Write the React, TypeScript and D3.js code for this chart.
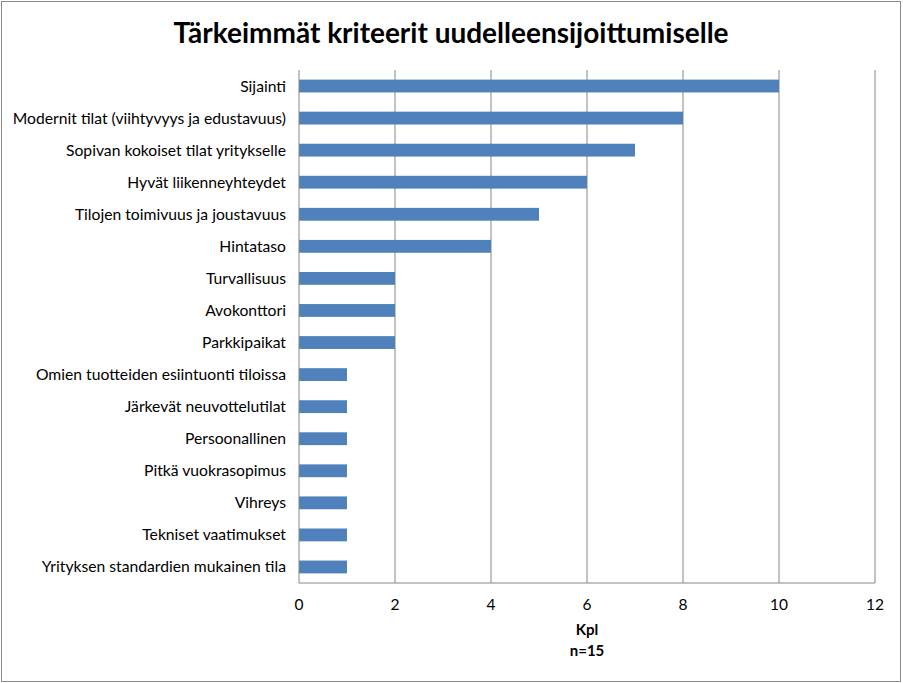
import React, { useEffect, useRef } from 'react';
import * as d3 from 'd3';

const categories = [
  'Sijainti',
  'Modernit tilat (viihtyvyys ja edustavuus)',
  'Sopivan kokoiset tilat yritykselle',
  'Hyvät liikenneyhteydet',
  'Tilojen toimivuus ja joustavuus',
  'Hintataso',
  'Turvallisuus',
  'Avokonttori',
  'Parkkipaikat',
  'Omien tuotteiden esiintuonti tiloissa',
  'Järkevät neuvottelutilat',
  'Persoonallinen',
  'Pitkä vuokrasopimus',
  'Vihreys',
  'Tekniset vaatimukset',
  'Yrityksen standardien mukainen tila',
];
const counts = [10, 8, 7, 6, 5, 4, 2, 2, 2, 1, 1, 1, 1, 1, 1, 1];
const xTicks = [0, 2, 4, 6, 8, 10, 12];

const FONT = 'Lato, "Open Sans", sans-serif';

const App = () => {
  const ref = useRef<SVGSVGElement>(null);

  useEffect(() => {
    const width = 903;
    const height = 683;
    const margin = { top: 70, right: 28, bottom: 100, left: 299 };
    const innerW = 875 - margin.left;
    const innerH = 583 - margin.top;

    const svg = d3.select(ref.current);
    svg.selectAll('*').remove();

    svg.append('rect')
      .attr('x', 1.5).attr('y', 1.5)
      .attr('width', width - 4).attr('height', height - 3)
      .attr('fill', '#fff').attr('stroke', '#8c8c8c');

    svg.append('text')
      .attr('x', 451).attr('y', 43)
      .attr('text-anchor', 'middle')
      .style('font-family', FONT)
      .style('font-weight', 'bold')
      .style('font-size', '28px')
      .text('Tärkeimmät kriteerit uudelleensijoittumiselle');

    const g = svg.append('g').attr('transform', `translate(${margin.left},${margin.top})`);

    const x = d3.scaleLinear().domain([0, 12]).range([0, innerW]);
    const y = d3.scaleBand().domain(categories).range([0, innerH]).paddingInner(0.6).paddingOuter(0.3);

    // gridlines
    g.append('g')
      .selectAll('line')
      .data(xTicks.slice(1))
      .join('line')
      .attr('x1', d => x(d)).attr('x2', d => x(d))
      .attr('y1', 0).attr('y2', innerH)
      .attr('stroke', '#868686');

    g.append('g')
      .selectAll('rect')
      .data(counts)
      .join('rect')
      .attr('x', 0)
      .attr('y', (d, i) => y(categories[i]) as number)
      .attr('width', d => x(d))
      .attr('height', y.bandwidth())
      .attr('fill', '#4f81bd');

    // axes lines
    g.append('line').attr('x1', 0).attr('x2', 0).attr('y1', 0).attr('y2', innerH).attr('stroke', '#868686');
    g.append('line').attr('x1', 0).attr('x2', innerW).attr('y1', innerH).attr('y2', innerH).attr('stroke', '#868686');

    g.append('g')
      .selectAll('text')
      .data(categories)
      .join('text')
      .attr('x', -13)
      .attr('y', d => (y(d) as number) + y.bandwidth() / 2)
      .attr('dy', '0.35em')
      .attr('text-anchor', 'end')
      .style('font-family', FONT)
      .style('font-size', '15.7px')
      .text(d => d);

    g.append('g')
      .selectAll('text')
      .data(xTicks)
      .join('text')
      .attr('x', d => x(d))
      .attr('y', innerH + 22)
      .attr('dy', '0.35em')
      .attr('text-anchor', 'middle')
      .style('font-family', FONT)
      .style('font-size', '15.5px')
      .text(d => d);

    svg.append('text')
      .attr('x', 587).attr('y', 630).attr('dy', '0.35em')
      .attr('text-anchor', 'middle')
      .style('font-family', FONT).style('font-weight', 'bold').style('font-size', '15px')
      .text('Kpl');
    svg.append('text')
      .attr('x', 587).attr('y', 651).attr('dy', '0.35em')
      .attr('text-anchor', 'middle')
      .style('font-family', FONT).style('font-weight', 'bold').style('font-size', '15px')
      .text('n=15');
  }, []);

  return <svg ref={ref} width={903} height={683} style={{ display: 'block', position: 'absolute', left: 0, top: 0 }} />;
};

export default App;
